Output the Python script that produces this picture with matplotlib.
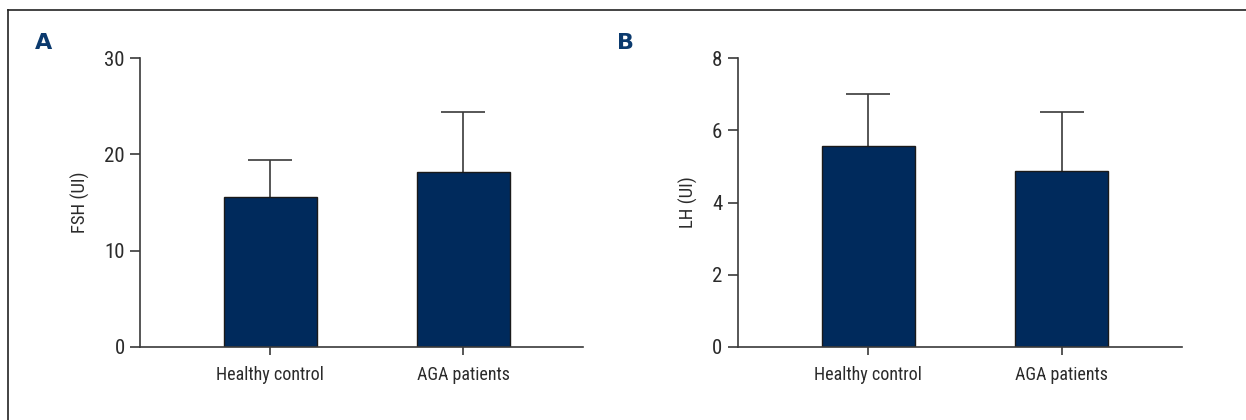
import matplotlib.pyplot as plt
from matplotlib.lines import Line2D
import numpy as np

# Data ########################################################################

groups = ["Healthy control", "AGA patients"]
fsh_mean = [15.6, 18.2]
fsh_sd = [3.8, 6.2]
lh_mean = [5.57, 4.87]
lh_sd = [1.43, 1.63]

# Style #######################################################################

plt.rcParams['font.family'] = ['Liberation Sans Narrow', 'Roboto Condensed',
                               'Open Sans Condensed', 'Noto Sans', 'DejaVu Sans']
plt.rcParams['font.stretch'] = 'condensed'
bar_color = '#002a5c'
line_color = '#3a3a3a'
text_color = '#2b2b2b'

fig = plt.figure(figsize=(12.46, 4.2), dpi=100)

panels = [
    (140, 583, fsh_mean, fsh_sd, 'FSH (UI)', [0, 10, 20, 30], 'A', 35),
    (737.7, 1181.7, lh_mean, lh_sd, 'LH (UI)', [0, 2, 4, 6, 8], 'B', 617),
]

x = np.arange(len(groups))
for left, right, means, sds, ylab, yticks, letter, letter_x in panels:
    ax = fig.add_axes([left / 1246, 1 - 347 / 420, (right - left) / 1246, (347 - 58) / 420])
    ax.bar(x, means, width=0.48, color=bar_color, edgecolor='#1a1a1a', linewidth=1, zorder=2)
    eb = ax.errorbar(x, means, yerr=[np.zeros(len(sds)), sds], fmt='none',
                     ecolor=line_color, elinewidth=1.2, capsize=15.5, capthick=1.2, zorder=1)
    eb[1][0].set_visible(False)  # no cap at the bar top
    ax.set_xlim(-0.675, 0.62 + 1)
    ax.set_ylim(yticks[0], yticks[-1])
    ax.set_yticks(yticks)
    ax.set_xticks(x)
    ax.set_xticklabels(groups)
    ax.set_ylabel(ylab, fontsize=13.5, color=text_color, labelpad=10)
    for s in ['top', 'right']:
        ax.spines[s].set_visible(False)
    for s in ['left', 'bottom']:
        ax.spines[s].set_color(line_color)
        ax.spines[s].set_linewidth(1.2)
    ax.tick_params(axis='y', length=7, width=1.2, color=line_color, labelsize=15,
                   labelcolor=text_color, pad=4)
    ax.tick_params(axis='x', length=6, width=1.2, color=line_color, labelsize=13,
                   labelcolor=text_color, pad=8)
    fig.text(letter_x / 1246, 1 - 43 / 420, letter, fontsize=16, fontweight='bold',
             color='#0b3a6e', va='center', ha='left', family=['DejaVu Sans'],
             fontstretch='normal')

# Frame (left and top only)
fig.add_artist(Line2D([8 / 1246, 8 / 1246], [0, 1 - 10 / 420], transform=fig.transFigure,
                      color='#222222', linewidth=1.2))
fig.add_artist(Line2D([8 / 1246, 1], [1 - 10 / 420, 1 - 10 / 420], transform=fig.transFigure,
                      color='#222222', linewidth=1.2))

plt.savefig('out.png', dpi=100)
